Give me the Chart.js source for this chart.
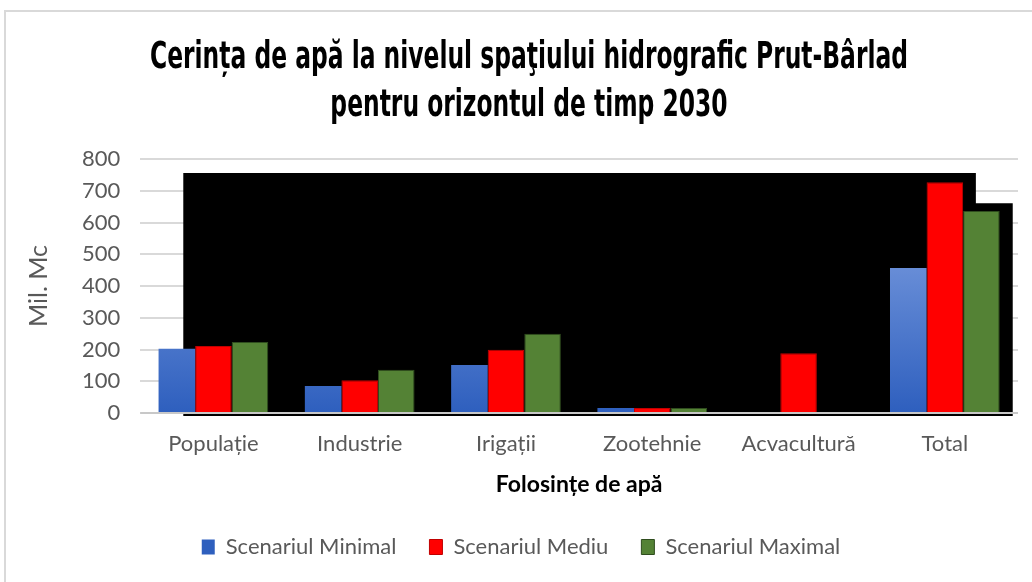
<!DOCTYPE html>
<html>
<head>
<meta charset="utf-8">
<script src="https://cdn.jsdelivr.net/npm/chart.js@4.4.1/dist/chart.umd.min.js"></script>
<style>
  body { margin: 0; background: #fff; overflow: hidden; }
  #wrap { position: absolute; left: 4px; top: 10px; width: 1030px; height: 572px;
          border-left: 2px solid #d9d9d9; border-top: 2px solid #d9d9d9; }
</style>
</head>
<body>
<div id="wrap"><canvas id="waterChart" width="1028" height="570"></canvas></div>
<script>
  // data
  const categories = ["Populație", "Industrie", "Irigații", "Zootehnie", "Acvacultură", "Total"];
  const seriesNames = ["Scenariul Minimal", "Scenariul Mediu", "Scenariul Maximal"];
  const minimal = [202, 85, 151, 16, 0, 457];
  const mediu = [211, 103, 199, 16, 188, 727];
  const maximal = [224, 136, 250, 16, 0, 636];
  const yTicks = [0, 100, 200, 300, 400, 500, 600, 700, 800];
  const titleLines = ["Cerința de apă la nivelul spaţiului hidrografic Prut-Bârlad", "pentru orizontul de timp 2030"];

  const tickFont = "Lato";

  // blue bars fade from light on top to darker at the base
  const blueFill = (context) => {
    const area = context.chart.chartArea;
    if (!area) return "#4472c4";
    const y = context.chart.scales.y;
    const g = context.chart.ctx.createLinearGradient(0, y.getPixelForValue(480), 0, area.bottom);
    g.addColorStop(0, "#6a8fd8");
    g.addColorStop(1, "#2e5fbe");
    return g;
  };

  // black backdrop behind the bars (stepped down at the right end)
  const backdrop = {
    id: "backdrop",
    beforeDatasetsDraw(chart) {
      const { ctx, chartArea: a, scales } = chart;
      const w = a.right - a.left;
      const left = a.left + w * 0.049;
      const step = a.left + w * 0.952;
      const right = a.left + w * 0.994;
      const top1 = scales.y.getPixelForValue(756);
      const top2 = scales.y.getPixelForValue(661);
      ctx.save();
      ctx.fillStyle = "#000";
      ctx.beginPath();
      ctx.moveTo(left, top1);
      ctx.lineTo(step, top1);
      ctx.lineTo(step, top2);
      ctx.lineTo(right, top2);
      ctx.lineTo(right, a.bottom + 3);
      ctx.lineTo(left, a.bottom + 3);
      ctx.closePath();
      ctx.fill();
      // zero line stays visible over the backdrop
      ctx.strokeStyle = "#c8c8c8";
      ctx.lineWidth = 2;
      ctx.beginPath();
      ctx.moveTo(a.left, a.bottom);
      ctx.lineTo(a.right, a.bottom);
      ctx.stroke();
      ctx.restore();
    }
  };

  // condensed heavy title, squeezed horizontally
  const condensedTitle = {
    id: "condensedTitle",
    afterDraw(chart) {
      const c = chart.ctx;
      c.save();
      c.font = "bold 37px 'DejaVu Sans'";
      c.fillStyle = "#000";
      c.textAlign = "center";
      c.textBaseline = "alphabetic";
      const sx = 758 / c.measureText(titleLines[0]).width;
      const cx = 523;
      c.scale(sx, 1);
      c.fillText(titleLines[0], cx / sx, 56);
      c.fillText(titleLines[1], cx / sx, 104);
      c.restore();
    }
  };

  const ctx = document.getElementById("waterChart").getContext("2d");
  const chart = new Chart(ctx, {
    type: "bar",
    data: {
      labels: categories,
      datasets: [
        { label: seriesNames[0], data: minimal, backgroundColor: blueFill, borderWidth: 0 },
        { label: seriesNames[1], data: mediu, backgroundColor: "#ff0000", borderColor: "#c00000", borderWidth: 1 },
        { label: seriesNames[2], data: maximal, backgroundColor: "#548235", borderColor: "#2f4d1e", borderWidth: 1 }
      ]
    },
    options: {
      responsive: false,
      animation: false,
      layout: { padding: { left: 18, right: 16, top: 147, bottom: 14 } },
      datasets: {
        bar: { categoryPercentage: 0.75, barPercentage: 1 }
      },
      scales: {
        x: {
          grid: { display: false },
          border: { display: false },
          ticks: { color: "#595959", font: { family: tickFont, size: 22 }, padding: 10 },
          title: {
            display: true,
            text: "Folosințe de apă",
            color: "#000",
            font: { family: tickFont, size: 23, weight: "bold" },
            padding: { top: 3, bottom: 5 }
          }
        },
        y: {
          min: 0,
          max: 800,
          afterBuildTicks: (scale) => { scale.ticks = yTicks.map(v => ({ value: v })); },
          grid: { color: "#d9d9d9", lineWidth: 2, drawTicks: false },
          border: { display: false },
          ticks: { color: "#595959", font: { family: tickFont, size: 22 }, padding: 20 },
          title: {
            display: true,
            text: "Mil. Mc",
            color: "#595959",
            font: { family: tickFont, size: 25 },
            padding: { top: 0, bottom: 8 }
          }
        }
      },
      plugins: {
        title: { display: false },
        legend: {
          display: true,
          position: "bottom",
          labels: {
            color: "#595959",
            font: { family: tickFont, size: 22 },
            boxWidth: 13,
            boxHeight: 15,
            padding: 33
          }
        },
        tooltip: { enabled: false }
      }
    },
    plugins: [backdrop, condensedTitle]
  });
</script>
</body>
</html>
